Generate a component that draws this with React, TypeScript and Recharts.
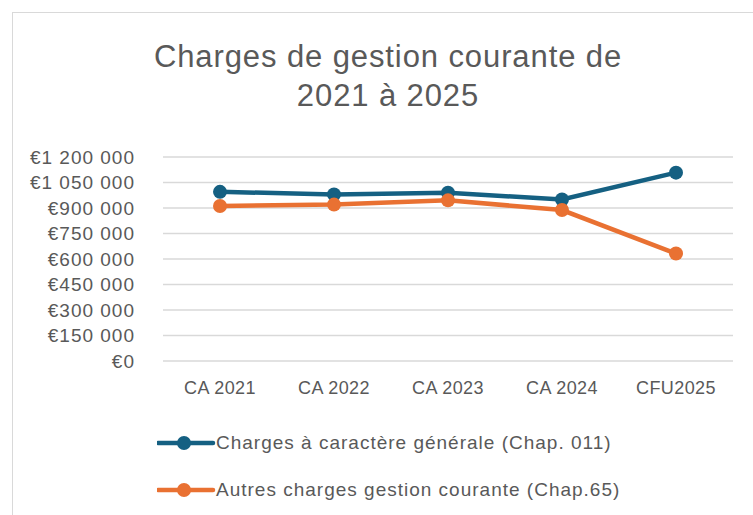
import React from 'react'
import { LineChart, Line, XAxis, YAxis, CartesianGrid } from 'recharts'

const categories = ['CA 2021', 'CA 2022', 'CA 2023', 'CA 2024', 'CFU2025']
const chap011 = [995000, 980000, 990000, 950000, 1108000]
const chap65 = [912000, 920000, 945000, 888000, 632000]
const yTicks = [0, 150000, 300000, 450000, 600000, 750000, 900000, 1050000, 1200000]

const series = [
  { key: 'chap011', name: 'Charges à caractère générale (Chap. 011)', color: '#156082' },
  { key: 'chap65', name: 'Autres charges gestion courante (Chap.65)', color: '#E97132' },
]

const data = categories.map((c, i) => ({ cat: c, chap011: chap011[i], chap65: chap65[i] }))

const FONT = '"Liberation Sans", Arial, sans-serif'
const TEXT = '#595959'

const fmtEuro = (v: number) =>
  '€' + String(v).replace(/\B(?=(\d{3})+(?!\d))/g, ' ')

export default function App() {
  return (
    <div
      style={{
        position: 'absolute',
        left: 0,
        top: 0,
        width: 753,
        height: 515,
        overflow: 'hidden',
        background: '#fff',
        fontFamily: FONT,
      }}
    >
      <div
        style={{
          position: 'absolute',
          left: 12,
          top: 12,
          width: 800,
          height: 600,
          border: '1.5px solid #d9d9d9',
        }}
      />
      <div
        style={{
          position: 'absolute',
          left: 88,
          width: 600,
          top: 37,
          textAlign: 'center',
          fontSize: 31,
          letterSpacing: 0.9,
          lineHeight: '39px',
          color: TEXT,
        }}
      >
        Charges de gestion courante de
        <br />
        2021 à 2025
      </div>
      <div style={{ position: 'absolute', left: 0, top: 0 }}>
        <LineChart
          width={753}
          height={515}
          data={data}
          margin={{ top: 157, right: 20, bottom: 124, left: 0 }}
        >
          <CartesianGrid vertical={false} stroke="#d9d9d9" strokeWidth={1.5} />
          <XAxis
            dataKey="cat"
            axisLine={false}
            tickLine={false}
            tickSize={0}
            tickMargin={20}
            height={30}
            padding={{ left: 57, right: 57 }}
            tick={{ fill: TEXT, fontSize: 18, fontFamily: FONT, letterSpacing: 0.4 }}
          />
          <YAxis
            domain={[0, 1200000]}
            ticks={yTicks}
            interval={0}
            width={163}
            axisLine={false}
            tickLine={false}
            tickSize={0}
            tickMargin={28}
            tickFormatter={fmtEuro}
            tick={{ fill: TEXT, fontSize: 19, fontFamily: FONT, letterSpacing: 1 }}
          />
          {series.map((s) => (
            <Line
              key={s.key}
              dataKey={s.key}
              name={s.name}
              stroke={s.color}
              strokeWidth={4.5}
              dot={{ r: 7, fill: s.color, stroke: s.color, strokeWidth: 0 }}
              activeDot={false}
              isAnimationActive={false}
            />
          ))}
        </LineChart>
      </div>
      {series.map((s, i) => (
        <div
          key={s.key}
          style={{
            position: 'absolute',
            left: 157,
            top: 431 + i * 47,
            height: 24,
            display: 'flex',
            alignItems: 'center',
            fontSize: 19,
            letterSpacing: 1,
            color: TEXT,
            whiteSpace: 'nowrap',
          }}
        >
          <svg width={59} height={24} style={{ display: 'block' }}>
            <line x1={1} y1={12} x2={56} y2={12} stroke={s.color} strokeWidth={4.5} strokeLinecap="round" />
            <circle cx={27} cy={12} r={7} fill={s.color} />
          </svg>
          <span>{s.name}</span>
        </div>
      ))}
    </div>
  )
}
